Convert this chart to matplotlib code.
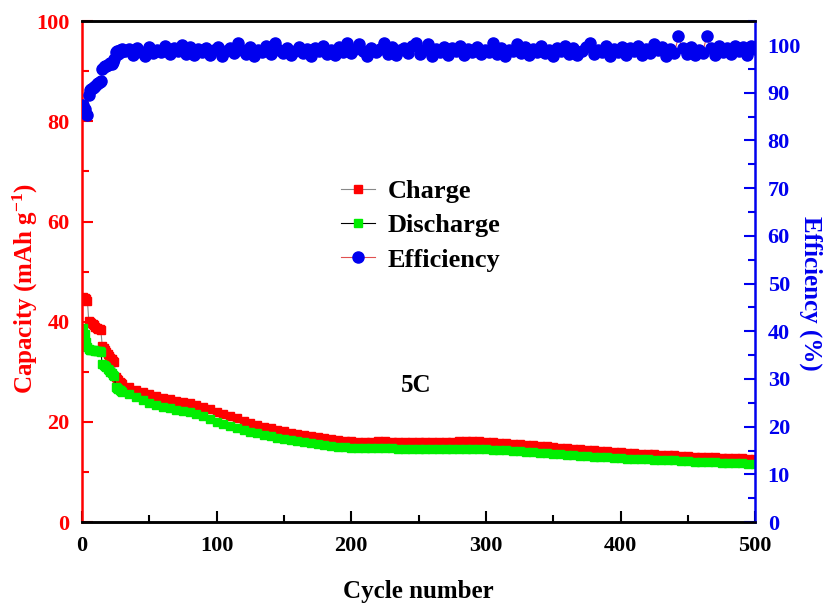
import matplotlib.pyplot as plt
import numpy as np
from matplotlib.ticker import MultipleLocator
from matplotlib.lines import Line2D

plt.rcParams['font.family'] = ['Liberation Serif', 'DejaVu Serif']
plt.rcParams['font.weight'] = 'bold'
plt.rcParams['mathtext.fontset'] = 'custom'
plt.rcParams['mathtext.rm'] = 'Liberation Serif:bold'
plt.rcParams['mathtext.default'] = 'rm'

# capacity: every cycle up to 30, then every 5th
cycles = list(range(1, 31)) + list(range(35, 501, 5))

charge = [45.0, 44.8, 44.5, 44.2, 40.2, 39.9, 39.7, 39.5, 39.3, 39.0,
          38.8, 38.6, 38.5, 38.3, 35.2, 34.8, 34.4, 34.0, 33.6, 33.2,
          32.8, 32.5, 32.2, 31.9, 29.0, 28.6, 28.3, 28.0, 27.7, 27.5,
          27.0, 26.4, 25.9, 25.5, 25.1, 24.8, 24.5, 24.2, 24.0, 23.8,
          23.4, 23.0, 22.5, 22.0, 21.6, 21.2, 20.7, 20.2, 19.8, 19.4,
          19.0, 18.7, 18.4, 18.1, 17.8, 17.5, 17.3, 17.1, 16.9, 16.7,
          16.5, 16.3, 16.2, 16.1, 16.0, 16.0, 16.0, 16.1, 16.1, 16.0,
          16.0, 16.0, 16.0, 16.0, 15.9, 15.9, 16.0, 16.0, 16.0, 16.1,
          16.1, 16.1, 16.1, 16.0, 15.9, 15.8, 15.7, 15.6, 15.5, 15.4,
          15.3, 15.2, 15.1, 15.0, 14.8, 14.7, 14.6, 14.5, 14.4, 14.3,
          14.2, 14.1, 14.0, 13.9, 13.8, 13.7, 13.6, 13.6, 13.5, 13.4,
          13.4, 13.3, 13.2, 13.1, 13.0, 13.0, 12.9, 12.9, 12.8, 12.8,
          12.7, 12.7, 12.6, 12.6]

discharge = [38.8, 37.5, 36.0, 35.0, 34.5, 34.4, 34.4, 34.3, 34.3, 34.2,
             34.2, 34.1, 34.1, 34.0, 31.5, 31.3, 31.1, 30.9, 30.6, 30.3,
             30.0, 29.7, 29.4, 29.2, 27.0, 26.8, 26.6, 26.4, 26.2, 26.0,
             25.5, 24.9, 24.3, 23.8, 23.4, 23.0, 22.7, 22.4, 22.2, 22.0,
             21.6, 21.1, 20.6, 20.0, 19.6, 19.2, 18.8, 18.4, 18.0, 17.7,
             17.4, 17.1, 16.8, 16.5, 16.3, 16.1, 15.9, 15.7, 15.5, 15.3,
             15.1, 15.0, 14.9, 14.8, 14.8, 14.7, 14.7, 14.7, 14.7, 14.7,
             14.6, 14.6, 14.6, 14.6, 14.5, 14.5, 14.6, 14.6, 14.6, 14.6,
             14.6, 14.6, 14.6, 14.5, 14.4, 14.3, 14.3, 14.2, 14.1, 14.0,
             13.9, 13.8, 13.7, 13.6, 13.5, 13.4, 13.3, 13.2, 13.1, 13.0,
             12.9, 12.9, 12.8, 12.7, 12.6, 12.6, 12.5, 12.5, 12.4, 12.4,
             12.3, 12.3, 12.2, 12.2, 12.1, 12.1, 12.0, 12.0, 11.9, 11.9,
             11.8, 11.8, 11.7, 11.7]

# efficiency: every cycle up to 30, then every 3rd
eff_cycles = list(range(1, 31)) + list(range(32, 501, 3))

efficiency = [87.5, 86.5, 85.5, 85.3, 89.5, 90.5, 90.8, 91.0, 91.3, 91.5,
              91.8, 92.0, 92.3, 92.5, 95.0, 95.3, 95.5, 95.6, 95.8, 96.0,
              96.2, 96.0, 96.5, 97.0, 98.5, 98.8, 98.2, 99.0, 98.5, 99.2,
              98.8, 99.2, 98.0, 99.4, 98.5, 97.8, 99.6, 98.3, 99.0, 98.6,
              99.8, 98.1, 99.3, 98.7, 100.0, 98.2, 99.5, 97.9, 99.1, 98.5,
              99.4, 98.0, 98.9, 99.6, 97.8, 98.7, 99.3, 98.4, 100.5, 98.9,
              98.2, 99.5, 97.7, 99.0, 98.6, 99.8, 98.1, 100.4, 99.0, 98.3,
              99.3, 97.9, 98.8, 99.6, 98.4, 99.1, 97.8, 99.4, 98.7, 99.9,
              98.2, 99.0, 97.9, 99.5, 98.6, 100.5, 98.3, 99.2, 100.3, 98.8,
              97.8, 99.4, 98.5, 99.1, 100.4, 98.1, 99.6, 97.9, 98.9, 99.3,
              98.4, 99.7, 100.5, 98.2, 99.0, 100.3, 97.8, 99.2, 98.6, 99.5,
              98.0, 99.3, 98.7, 99.8, 97.9, 99.1, 98.5, 99.6, 98.2, 99.0,
              98.6, 100.4, 98.1, 99.4, 97.8, 99.0, 98.8, 100.3, 98.4, 99.5,
              97.9, 99.2, 98.6, 99.7, 98.3, 99.0, 97.8, 99.4, 98.7, 99.9,
              98.1, 99.3, 97.9, 98.8, 99.5, 100.4, 98.2, 99.0, 98.6, 99.7,
              97.8, 99.1, 98.5, 99.6, 98.0, 99.3, 98.8, 99.9, 97.9, 99.2,
              98.4, 100.3, 98.9, 99.5, 97.8, 99.1, 98.3, 101.8, 99.4, 98.1,
              99.6, 97.9, 99.0, 98.4, 101.9, 99.3, 98.0, 99.8, 98.6, 99.4,
              98.2, 99.7, 98.8, 99.5, 98.0, 99.9, 99.2]

fig = plt.figure(figsize=(8.26, 6.05), dpi=100)
ax = fig.add_axes([0.0993, 0.137, 0.815, 0.828])
ax2 = ax.twinx()

ax.plot(cycles, charge, '-', color='#888888', lw=0.8, marker='s', ms=6,
        mfc='red', mec='red', label='Charge')
ax.plot(cycles, discharge, '-', color='black', lw=0.8, marker='s', ms=6,
        mfc='#00ee00', mec='#00ee00', label='Discharge')
ax2.plot(eff_cycles, efficiency, '-', color='#e05050', lw=0.8, marker='o',
         ms=8, mfc='#0000ee', mec='#0000ee', label='Efficiency')

ax.set_xlim(0, 500)
ax.set_ylim(0, 100)
ax2.set_ylim(0, 105.0)

ax.xaxis.set_major_locator(MultipleLocator(100))
ax.xaxis.set_minor_locator(MultipleLocator(50))
ax.yaxis.set_major_locator(MultipleLocator(20))
ax.yaxis.set_minor_locator(MultipleLocator(10))
ax2.yaxis.set_major_locator(MultipleLocator(10))
ax2.yaxis.set_minor_locator(MultipleLocator(5))

ax.spines['left'].set_color('red')
ax.spines['right'].set_visible(False)
ax2.spines['left'].set_visible(False)
ax2.spines['right'].set_color('#0000ee')
for a in (ax, ax2):
    for s in a.spines.values():
        s.set_linewidth(1.8)

ax.tick_params(axis='x', which='both', direction='in', top=False, width=1.5,
               labelsize=16, pad=10, colors='black')
ax.tick_params(axis='x', which='major', length=8)
ax.tick_params(axis='x', which='minor', length=5)
ax.tick_params(axis='y', which='both', direction='in', width=1.5, colors='red',
               labelsize=16, pad=9)
ax.tick_params(axis='y', which='major', length=8)
ax.tick_params(axis='y', which='minor', length=5)
ax2.tick_params(axis='y', which='both', direction='in', width=1.5,
                colors='#0000ee', labelsize=16, pad=9)
ax2.tick_params(axis='y', which='major', length=8)
ax2.tick_params(axis='y', which='minor', length=5)

ax.set_xlabel('Cycle number', fontsize=18, fontweight='bold', labelpad=17)
ax.set_ylabel('Capacity (mAh g$^{-1}$)', fontsize=18, fontweight='bold',
              color='red')
ax.yaxis.set_label_coords(-0.062, 0.467)
ax2.set_ylabel('Efficiency (%)', fontsize=18, fontweight='bold',
               color='#0000ee', rotation=270)
ax2.yaxis.set_label_coords(1.10, 0.456)

ax.text(248, 27.3, '5C', fontsize=18, fontweight='bold', ha='center',
        va='center')

handles = [Line2D([], [], color='#888888', lw=0.8, marker='s', ms=6,
                  mfc='red', mec='red'),
           Line2D([], [], color='black', lw=0.8, marker='s', ms=6,
                  mfc='#00ee00', mec='#00ee00'),
           Line2D([], [], color='#e05050', lw=0.8, marker='o', ms=8,
                  mfc='#0000ee', mec='#0000ee')]
ax2.legend(handles, ['Charge', 'Discharge', 'Efficiency'], loc='upper left',
           bbox_to_anchor=(0.384, 0.683), frameon=False,
           handlelength=1.3, handletextpad=0.5, labelspacing=0.4,
           borderpad=0, borderaxespad=0, prop={'weight': 'bold', 'size': 19})

fig.savefig('out.png', dpi=100)
